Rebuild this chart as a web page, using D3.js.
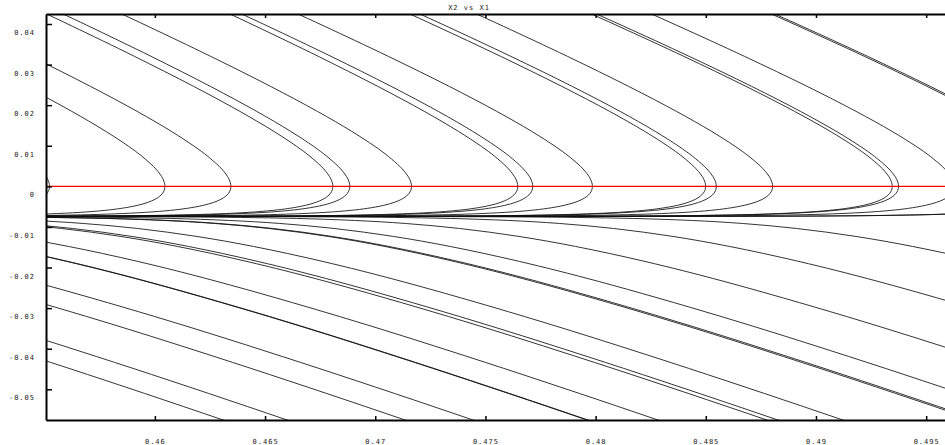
<!DOCTYPE html>
<html>
<head>
<meta charset="utf-8">
<script src="https://cdn.jsdelivr.net/npm/d3@7/dist/d3.min.js"></script>
<style>
  body { margin: 0; background: #fff; }
  text { font-family: "DejaVu Sans Mono", monospace; font-size: 7px; letter-spacing: 1px; fill: #222; }
</style>
</head>
<body>
<svg id="chart" width="945" height="445"></svg>
<script>
// Axis ticks
const xTickValues = [0.46, 0.465, 0.47, 0.475, 0.48, 0.485, 0.49, 0.495];
const xTickLabels = ["0.46", "0.465", "0.47", "0.475", "0.48", "0.485", "0.49", "0.495"];
const yTickValues = [0.04, 0.03, 0.02, 0.01, 0, -0.01, -0.02, -0.03, -0.04, -0.05];
const yTickLabels = ["0.04", "0.03", "0.02", "0.01", "0", "-0.01", "-0.02", "-0.03", "-0.04", "-0.05"];

// Visible window of the phase plane
const x1Range = [0.45506, 0.4959];
const x2Range = [-0.057563, 0.042464];

// Level of the red reference line (x2 = 0, where x1 turns back)
const redLineX2 = 0;

// Trajectories above the slow line: x1 at their turning point on x2 = 0
const upperTurnX1 = [0.455219, 0.460457, 0.463450, 0.468077, 0.468847, 0.471646, 0.476467,
                     0.477147, 0.479855, 0.484994, 0.485479, 0.488032, 0.493461, 0.493747,
                     0.496286, 0.501729, 0.501865];
// ...and x1 where each one crosses x2 = 0.042474
const upperTopX1 = [0.442293, 0.447441, 0.450343, 0.455083, 0.455831, 0.458493, 0.463405,
                    0.463936, 0.466489, 0.471569, 0.472022, 0.474594, 0.479809, 0.480036,
                    0.482531, 0.487973, 0.488123];
// Common profile of those trajectories: x2 along the path and how far back in x1
// (as a share of the turning-point-to-top distance) the path lies at that x2
const upperShapeX2 = [0.045578, 0.043114, 0.039419, 0.032028, 0.024637, 0.018478, 0.013550,
                      0.009855, 0.007391, 0.004927, 0.003695, 0.002464, 0.001725, 0.000985,
                      0.000493, 0, -0.000493, -0.000985, -0.001725, -0.002464, -0.003203,
                      -0.003942, -0.004681, -0.005420, -0.005913, -0.006405, -0.006775,
                      -0.007021, -0.007194, -0.007292, -0.007354, -0.007384, -0.007403, -0.007416];
const upperShapeFrac = [1.093756, 1.019274, 0.908748, 0.692867, 0.486342, 0.324833, 0.206195,
                        0.126533, 0.079863, 0.040549, 0.024604, 0.011876, 0.006134, 0.002117,
                        0.000561, 0, 0.000606, 0.002536, 0.008414, 0.018727, 0.034950,
                        0.059345, 0.095869, 0.152249, 0.209058, 0.295647, 0.401792,
                        0.520135, 0.664637, 0.814975, 0.994096, 1.164273, 1.413690, 5.0];

// Trajectories below the slow line: common profile (x2, x1 offset)
const lowerShapeX2 = [-0.0074157, -0.007418, -0.007428, -0.007465, -0.007539, -0.007662,
                      -0.007908, -0.008401, -0.009140, -0.010372, -0.012343, -0.014807,
                      -0.018502, -0.023429, -0.032052, -0.041907, -0.054225, -0.069007, -0.086253];
const lowerShapeDX1 = [-0.051644, -0.043626, -0.038020, -0.033176, -0.029952, -0.027480,
                       -0.024949, -0.022310, -0.020015, -0.017556, -0.014853, -0.012286,
                       -0.009139, -0.005547, 0, 0.005796, 0.012645, 0.020541, 0.029493];
// ...and x1 where each one crosses x2 = -0.032052
const lowerRefX1 = [0.448642, 0.451545, 0.456897, 0.459981, 0.465151, 0.465197, 0.468371,
                    0.473315, 0.473814, 0.476762, 0.482721, 0.482907, 0.485687, 0.491379,
                    0.498368, 0.506672];

const svg = d3.select("#chart");
const margin = { left: 46, top: 14, bottom: 25 };
const W = 945, H = 445;

const x = d3.scaleLinear().domain(x1Range).range([margin.left, 946]);
const y = d3.scaleLinear().domain(x2Range).range([H - margin.bottom, margin.top]);

svg.append("defs").append("clipPath").attr("id", "plot-clip")
  .append("rect")
  .attr("x", margin.left).attr("y", margin.top)
  .attr("width", W - margin.left).attr("height", H - margin.bottom - margin.top);

const plot = svg.append("g").attr("clip-path", "url(#plot-clip)");
const line = d3.line().x(d => x(d[0])).y(d => y(d[1])).curve(d3.curveCatmullRom.alpha(0.5));
const trajStroke = "#111", trajWidth = 0.85;

// upper family
upperTurnX1.forEach((turn, i) => {
  const span = upperTopX1[i] - turn;
  const pts = upperShapeX2.map((x2, j) => [turn + upperShapeFrac[j] * span, x2]);
  plot.append("path").attr("d", line(pts))
    .attr("fill", "none").attr("stroke", trajStroke).attr("stroke-width", trajWidth);
});

// lower family
lowerRefX1.forEach(ref => {
  const pts = lowerShapeX2.map((x2, j) => [ref + lowerShapeDX1[j], x2]);
  plot.append("path").attr("d", line(pts))
    .attr("fill", "none").attr("stroke", trajStroke).attr("stroke-width", trajWidth);
});

// red reference line
plot.append("line")
  .attr("x1", margin.left).attr("x2", W)
  .attr("y1", y(redLineX2)).attr("y2", y(redLineX2))
  .attr("stroke", "#ff0000").attr("stroke-width", 1.1);

// axes
const axisStyle = g => {
  g.select(".domain").attr("stroke", "#000").attr("stroke-width", 2);
  g.selectAll(".tick line").attr("stroke", "#000").attr("stroke-width", 1.5);
};

svg.append("g").attr("transform", `translate(0,${y(x2Range[0])})`)
  .call(d3.axisBottom(x).tickValues(xTickValues).tickFormat((d, i) => xTickLabels[i])
    .tickSize(-4).tickSizeOuter(0).tickPadding(19))
  .call(axisStyle)
  .call(g => g.selectAll("text").attr("fill", "#222").style("font-size", "7px"));

svg.append("g").attr("transform", `translate(0,${y(x2Range[1])})`)
  .call(d3.axisTop(x).tickValues(xTickValues).tickFormat("")
    .tickSize(-4).tickSizeOuter(0))
  .call(axisStyle);

svg.append("g").attr("transform", `translate(${margin.left},0)`)
  .call(d3.axisLeft(y).tickValues(yTickValues).tickFormat((d, i) => yTickLabels[i])
    .tickSize(-6).tickSizeOuter(0).tickPadding(11))
  .call(axisStyle)
  .call(g => g.selectAll("text").attr("dy", "10.5px").attr("fill", "#222").style("font-size", "7px"));

// title
svg.append("text").attr("x", 469).attr("y", 9.5).attr("text-anchor", "middle").text("X2 vs X1");
</script>
</body>
</html>
